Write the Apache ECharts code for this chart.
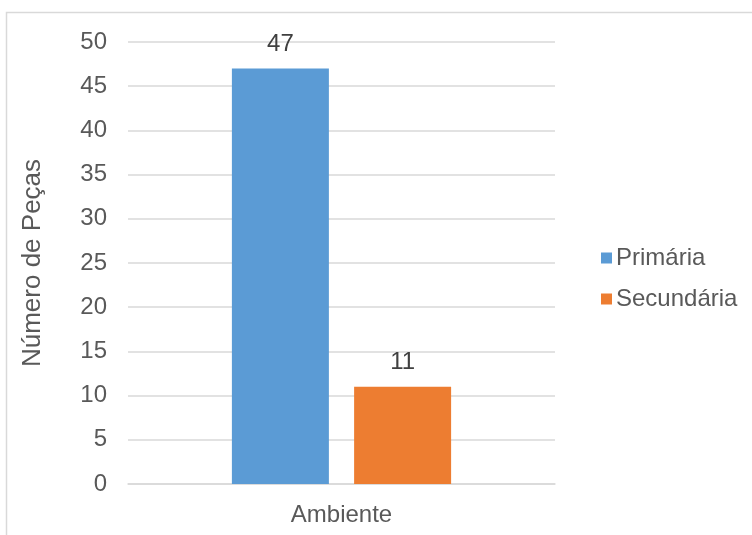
<!DOCTYPE html>
<html><head><meta charset="utf-8">
<script src="https://cdn.jsdelivr.net/npm/echarts@6/dist/echarts.min.js"></script>
<style>html,body{margin:0;padding:0;background:#fff}#c{width:752px;height:535px}</style>
</head><body><div id="c"></div>
<script>
const categories = ['Ambiente'];
const seriesNames = ['Primária', 'Secundária'];
const primaria = [47];
const secundaria = [11];
const yTicks = [0, 5, 10, 15, 20, 25, 30, 35, 40, 45, 50];

const chart = echarts.init(document.getElementById('c'), null, {renderer: 'canvas'});
const font = '"Liberation Sans", Arial, sans-serif';
chart.setOption({
  animation: false,
  graphic: [{type: 'rect', shape: {x: 6.5, y: 12.5, width: 800, height: 600},
    style: {fill: 'none', stroke: '#d9d9d9', lineWidth: 1.5}}],
  grid: {left: 128, right: 197, top: 42, bottom: 51},
  legend: {
    orient: 'vertical', left: 596, top: 241, itemGap: 17,
    itemWidth: 11, itemHeight: 11, icon: 'rect',
    textStyle: {fontFamily: font, fontSize: 24, color: '#595959', padding: [0, 0, 0, -1]},
    data: seriesNames
  },
  xAxis: {
    type: 'category', data: categories,
    axisLine: {lineStyle: {color: '#d9d9d9', width: 1.5}},
    axisTick: {show: false},
    axisLabel: {fontFamily: font, fontSize: 24, color: '#595959', margin: 19}
  },
  yAxis: {
    type: 'value', min: 0, max: 50, interval: 5,
    name: 'Número de Peças', nameLocation: 'middle', nameGap: 82,
    nameTextStyle: {fontFamily: font, fontSize: 26, color: '#595959'},
    axisLine: {show: false}, axisTick: {show: false},
    splitLine: {lineStyle: {color: '#d9d9d9', width: 1.5}},
    axisLabel: {fontFamily: font, fontSize: 24, color: '#595959', margin: 21,
      formatter: v => yTicks.includes(v) ? String(v) : ''}
  },
  series: [
    {name: seriesNames[0], type: 'bar', data: primaria, barWidth: 97, barGap: '26%',
     itemStyle: {color: '#5b9bd5'},
     label: {show: true, position: 'top', distance: 12, fontFamily: font, fontSize: 24, color: '#404040'}},
    {name: seriesNames[1], type: 'bar', data: secundaria, barWidth: 97,
     itemStyle: {color: '#ed7d31'},
     label: {show: true, position: 'top', distance: 12, fontFamily: font, fontSize: 24, color: '#404040'}}
  ]
});
</script></body></html>
